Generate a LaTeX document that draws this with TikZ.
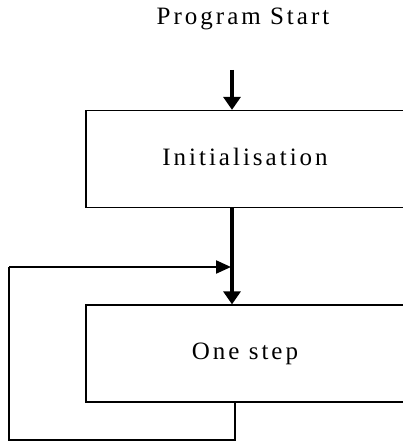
\documentclass[tikz,border=0pt]{standalone}
\usepackage{fontspec}
\setmainfont{Liberation Serif}[LetterSpace=12]
\usetikzlibrary{arrows.meta}
\tikzset{
  label text/.style={font=\fontsize{25}{30}\selectfont, inner sep=0pt},
  stepbox/.style={draw, line width=1.3pt, minimum width=318pt, minimum height=97pt,
    font=\fontsize{25}{30}\selectfont},
  flow/.style={line width=3.2pt, -{Triangle[length=13pt,width=17pt]}},
  back/.style={line width=1.4pt},
}
\begin{document}
\begin{tikzpicture}[x=1pt,y=-1pt]
  \useasboundingbox (0,0) rectangle (402,441);
  % labels and blocks
  \node[label text] (title) at (243,19) {Program Start};
  \node[stepbox] (init) at (245,159) {\raisebox{4pt}{Initialisation}};
  \node[stepbox] (step) at (245,353.5) {\raisebox{4pt}{One step}};
  % entry and merge points
  \coordinate (entry) at (232,70);
  \coordinate (merge) at (231,267);
  \coordinate (out) at (235,402);
  \coordinate (lowR) at (235,440);
  \coordinate (lowL) at (9,440);
  \coordinate (upL) at (9,267);
  % main flow
  \draw[flow] (entry) -- (entry |- init.north);
  \draw[flow] (init.south -| entry) -- (step.north -| entry);
  % loop back into the flow
  \draw[back] (out) -- (lowR) -- (lowL) -- (upL);
  \draw[line width=2.2pt, -{Triangle[length=15pt,width=13pt]}] (upL) -- (merge);
\end{tikzpicture}
\end{document}
